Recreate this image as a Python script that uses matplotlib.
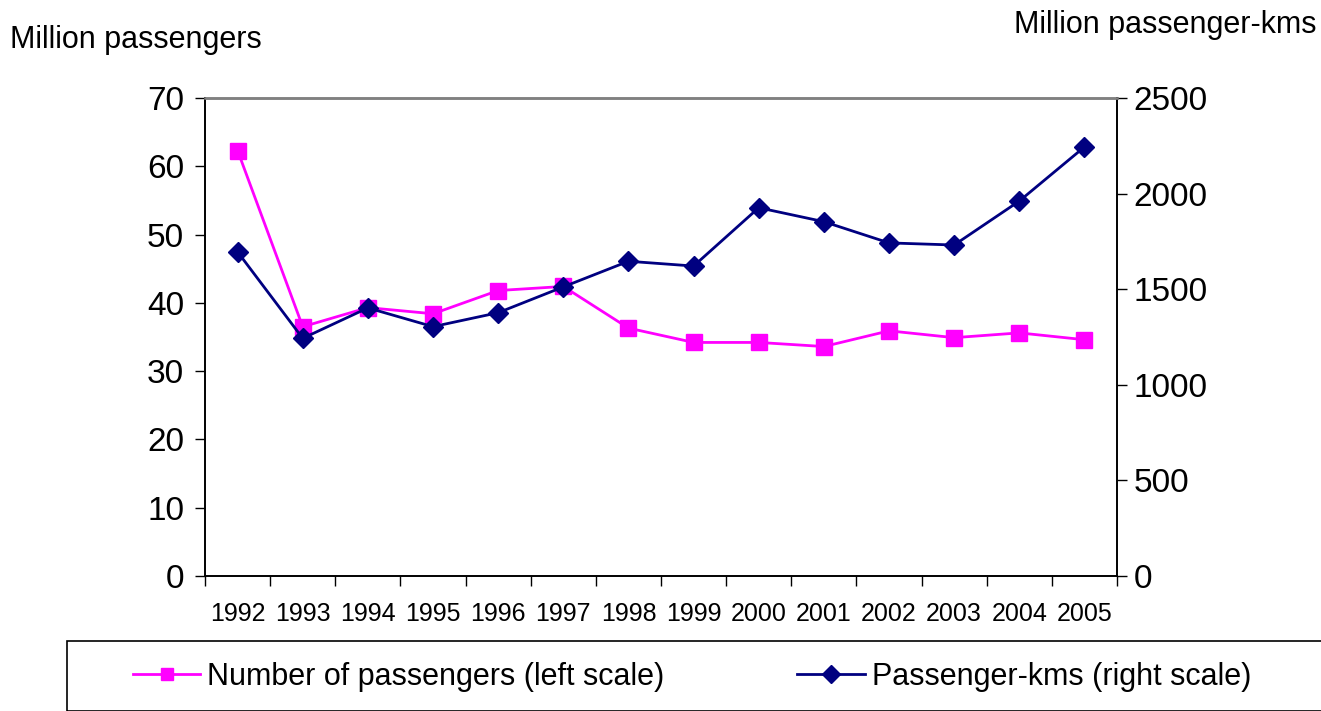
import matplotlib
matplotlib.use("Agg")
import matplotlib.pyplot as plt
from matplotlib.patches import Rectangle

plt.rcParams['font.family'] = ['Liberation Sans', 'DejaVu Sans']

years = ['1992', '1993', '1994', '1995', '1996', '1997', '1998', '1999',
         '2000', '2001', '2002', '2003', '2004', '2005']
passengers = [62.3, 36.5, 39.3, 38.4, 41.8, 42.4, 36.3, 34.2, 34.2, 33.6, 35.9, 34.9, 35.6, 34.6]
passenger_kms = [1695, 1243, 1402, 1304, 1377, 1512, 1646, 1621, 1926, 1853, 1742, 1731, 1961, 2244]
left_ticks = [0, 10, 20, 30, 40, 50, 60, 70]
right_ticks = [0, 500, 1000, 1500, 2000, 2500]

PINK = '#FF00FF'
NAVY = '#000080'

fig = plt.figure(figsize=(13.21, 7.11), dpi=100)
ax = fig.add_axes([0.1552, 0.1899, 0.6904, 0.6723])
ax2 = ax.twinx()

x = list(range(len(years)))
l1, = ax.plot(x, passengers, color=PINK, lw=2.0, marker='s', ms=11, mec=PINK, mfc=PINK,
              label='Number of passengers (left scale)', zorder=3)
l2, = ax2.plot(x, passenger_kms, color=NAVY, lw=2.0, marker='D', ms=10.5, mec=NAVY, mfc=NAVY,
               label='Passenger-kms (right scale)', zorder=4)

ax.set_xlim(-0.5, len(years) - 0.5)
ax.set_ylim(0, 70)
ax2.set_ylim(0, 2500)
ax.set_yticks(left_ticks)
ax2.set_yticks(right_ticks)
ax.tick_params(axis='y', direction='out', length=7, width=1, labelsize=24, pad=8)
ax2.tick_params(axis='y', direction='out', length=7, width=1, labelsize=24, pad=5)

ax.set_xticks([i - 0.5 for i in range(len(years) + 1)])
ax.set_xticklabels([])
ax.set_xticks(x, minor=True)
ax.set_xticklabels(years, minor=True)
ax.tick_params(axis='x', which='major', direction='out', length=7, width=1)
ax.tick_params(axis='x', which='minor', length=0, labelsize=18, pad=19)

for a in (ax, ax2):
    a.spines['top'].set_color('#808080')
    a.spines['top'].set_linewidth(1.8)
    a.spines['left'].set_linewidth(1.2)
    a.spines['right'].set_linewidth(1.2)
    a.spines['bottom'].set_linewidth(1.2)

fig.text(10 / 1321, 1 - 40 / 711, 'Million passengers', fontsize=22, ha='left', va='center')
fig.text(1316 / 1321, 1 - 25 / 711, 'Million passenger-kms', fontsize=22, ha='right', va='center')

# legend box
fig.patches.append(Rectangle((67 / 1321, 0), 1.0, (711 - 641) / 711, transform=fig.transFigure,
                             fill=False, edgecolor='black', lw=1.2))
fig.legend(handles=[l1, l2], loc='center left', bbox_to_anchor=(133 / 1321, 1 - 677 / 711),
           ncol=2, frameon=False, fontsize=22, handlelength=2.2, handletextpad=0.23,
           columnspacing=4.35, borderpad=0, borderaxespad=0, markerscale=0.85)

fig.savefig('out.png', dpi=100)
